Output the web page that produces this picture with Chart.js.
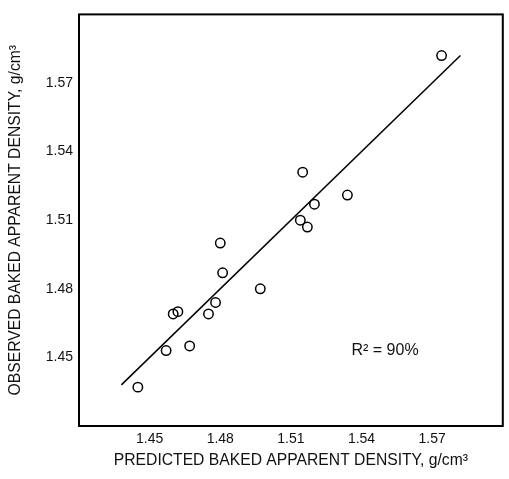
<!DOCTYPE html>
<html>
<head>
<meta charset="utf-8">
<script src="https://cdn.jsdelivr.net/npm/chart.js@4/dist/chart.umd.min.js"></script>
<style>
  html, body { margin: 0; padding: 0; background: #fff; }
  #wrap { width: 509px; height: 479px; }
</style>
</head>
<body>
<div id="wrap"><canvas id="densidad" width="509" height="479"></canvas></div>
<script>
// predicted vs observed baked apparent density (g/cm3)
var predicted = [1.574, 1.515, 1.534, 1.520, 1.514, 1.517, 1.480, 1.481, 1.497, 1.478, 1.475, 1.460, 1.462, 1.467, 1.457, 1.445];
var observed  = [1.582, 1.531, 1.521, 1.517, 1.510, 1.507, 1.500, 1.487, 1.480, 1.474, 1.469, 1.469, 1.470, 1.455, 1.453, 1.437];

// fitted line end points
var fitX = [1.438, 1.582];
var fitY = [1.438, 1.582];

var tickValues = [1.45, 1.48, 1.51, 1.54, 1.57];
var rSquared = 'R\u00B2 = 90%';

document.addEventListener('DOMContentLoaded', function() {
    var puntos = predicted.map(function(x, i) { return { x: x, y: observed[i] }; });
    var recta = fitX.map(function(x, i) { return { x: x, y: fitY[i] }; });

    // full frame round the plot area plus the R2 note
    var marco = {
        id: 'marco',
        afterDraw: function(chart) {
            var ctx = chart.ctx;
            var a = chart.chartArea;
            ctx.save();
            ctx.strokeStyle = '#000';
            ctx.lineWidth = 2;
            ctx.strokeRect(a.left, a.top, a.right - a.left, a.bottom - a.top);
            ctx.fillStyle = '#111';
            ctx.font = '16px "Liberation Sans", Arial, sans-serif';
            ctx.textAlign = 'center';
            ctx.textBaseline = 'middle';
            ctx.fillText(rSquared, chart.scales.x.getPixelForValue(1.55), chart.scales.y.getPixelForValue(1.453));
            ctx.restore();
        }
    };

    var fijarTicks = function(scale) {
        scale.ticks = tickValues.map(function(v) { return { value: v }; });
    };

    var fuenteTitulo = { family: '"Liberation Sans", Arial, sans-serif', size: 15.7 };
    var fuenteTicks = { family: '"Liberation Sans", Arial, sans-serif', size: 14 };

    var config = {
        type: 'scatter',
        data: {
            datasets: [
                {
                    data: puntos,
                    pointRadius: 4.7,
                    pointBorderWidth: 1.5,
                    pointBorderColor: '#000',
                    pointBackgroundColor: 'transparent',
                    showLine: false
                },
                {
                    data: recta,
                    showLine: true,
                    borderColor: '#000',
                    borderWidth: 1.5,
                    pointRadius: 0,
                    fill: false
                }
            ]
        },
        options: {
            responsive: false,
            animation: false,
            layout: { padding: { top: 12, right: 3, left: 0, bottom: 0 } },
            plugins: {
                legend: { display: false },
                tooltip: { enabled: false }
            },
            scales: {
                x: {
                    type: 'linear',
                    min: 1.42,
                    max: 1.60,
                    afterBuildTicks: fijarTicks,
                    afterFit: function(scale) { scale.height = 53; },
                    grid: { display: false, drawTicks: false },
                    border: { display: false },
                    ticks: {
                        padding: 5,
                        color: '#111',
                        font: fuenteTicks,
                        callback: function(v) { return v.toFixed(2); }
                    },
                    title: {
                        display: true,
                        text: 'PREDICTED BAKED APPARENT DENSITY, g/cm\u00B3',
                        color: '#111',
                        font: fuenteTitulo,
                        padding: { top: 0, bottom: 9 }
                    }
                },
                y: {
                    type: 'linear',
                    min: 1.42,
                    max: 1.60,
                    afterBuildTicks: fijarTicks,
                    afterFit: function(scale) { scale.width = 79; },
                    grid: { display: false, drawTicks: false },
                    border: { display: false },
                    ticks: {
                        padding: 6,
                        color: '#111',
                        font: fuenteTicks,
                        callback: function(v) { return v.toFixed(2); }
                    },
                    title: {
                        display: true,
                        text: 'OBSERVED BAKED APPARENT DENSITY, g/cm\u00B3',
                        color: '#111',
                        font: fuenteTitulo,
                        padding: { top: 6, bottom: 0 }
                    }
                }
            }
        },
        plugins: [marco]
    };

    var grafico = new Chart(document.getElementById('densidad'), config);
});
</script>
</body>
</html>
